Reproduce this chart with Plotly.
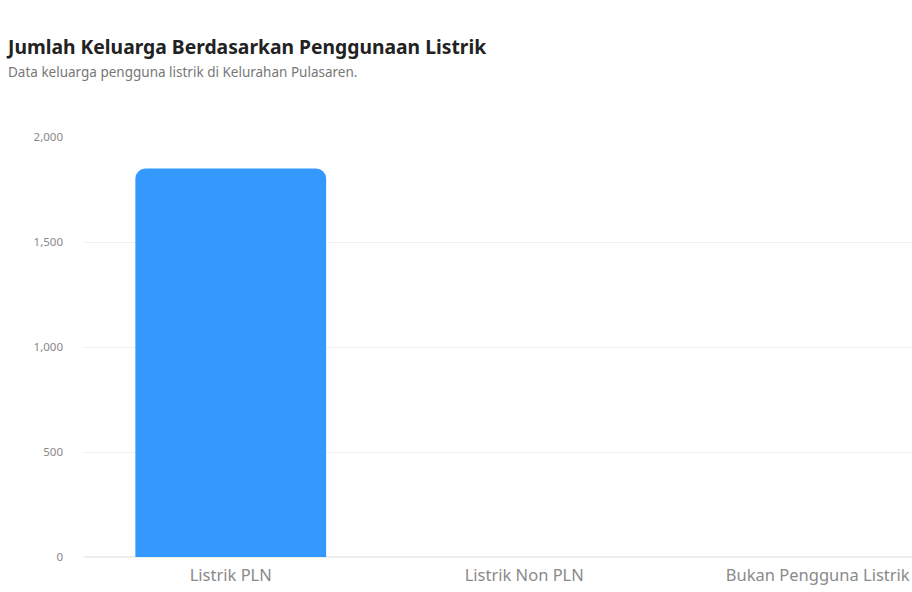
import plotly.graph_objects as go

categories = ["Listrik PLN", "Listrik Non PLN", "Bukan Pengguna Listrik"]
values = [1850, 0, 0]
y_ticks = [0, 500, 1000, 1500, 2000]

W, H = 912, 592
ml, mr, mt, mb = 84, 0, 137, 35
pw = W - ml - mr
ph = H - mt - mb
cat_w = 293.5

fig = go.Figure(
    go.Bar(
        x=categories,
        y=values,
        marker=dict(color="#3399ff", cornerradius=10, line=dict(width=0)),
        width=0.65,
        hoverinfo="x+y",
    )
)

fig.update_layout(
    width=W,
    height=H,
    margin=dict(l=ml, r=mr, t=mt, b=mb),
    paper_bgcolor="white",
    plot_bgcolor="white",
    font=dict(family="Noto Sans", color="#666666"),
    showlegend=False,
    title=dict(
        text="<b>Jumlah Keluarga Berdasarkan Penggunaan Listrik</b>",
        xref="container",
        yref="container",
        x=8 / W,
        xanchor="left",
        y=1 - 47 / H,
        yanchor="middle",
        font=dict(size=19.3, color="#222222", family="Noto Sans"),
    ),
    annotations=[
        dict(
            text="Data keluarga pengguna listrik di Kelurahan Pulasaren.",
            xref="paper",
            yref="paper",
            x=(6 - ml) / pw,
            y=(H - mb - 72) / ph,
            xanchor="left",
            yanchor="middle",
            showarrow=False,
            font=dict(size=13.5, color="#777777", family="Noto Sans"),
        )
    ],
    bargap=0.35,
)

fig.update_xaxes(
    range=[-0.5, pw / cat_w - 0.5],
    showgrid=False,
    showline=False,
    ticks="",
    tickfont=dict(size=16.5, color="#8a8a8a"),
    ticklabelstandoff=6,
)
fig.update_yaxes(
    range=[0, 2000],
    tickvals=y_ticks,
    tickformat=",",
    showgrid=True,
    gridcolor="#f1f1f1",
    gridwidth=1,
    zeroline=True,
    zerolinecolor="#eeeeee",
    showline=False,
    ticks="",
    tickfont=dict(size=11.5, color="#888888"),
    ticklabelstandoff=20,
)

fig.write_html("out.html")
